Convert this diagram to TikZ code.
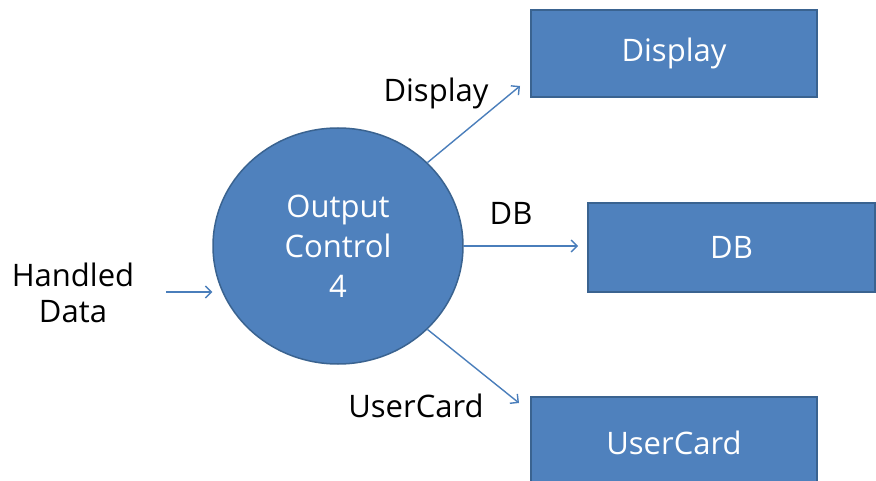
\documentclass[tikz,border=0pt]{standalone}
\usepackage{fontspec}
\setmainfont{Open Sans}
\usetikzlibrary{shapes.geometric,arrows.meta}
\definecolor{boxfill}{HTML}{4F81BD}
\definecolor{boxedge}{HTML}{3A6390}
\definecolor{flow}{HTML}{4A7EBB}
\begin{document}
\begin{tikzpicture}[x=1pt,y=-1pt,
  proc/.style={ellipse,draw=boxedge,line width=1.5pt,fill=boxfill,minimum width=250pt,minimum height=236pt,inner sep=0pt,text=white,align=center,font=\fontsize{31}{40}\selectfont},
  store/.style={rectangle,draw=boxedge,line width=2pt,fill=boxfill,inner sep=0pt,text=white,font=\fontsize{31}{36}\selectfont},
  lbl/.style={text=black,inner sep=0pt,align=center,font=\fontsize{31}{36}\selectfont},
  flowarrow/.style={draw=flow,line width=1.4pt,-{Straight Barb[length=6pt,width=12pt]}}]
\useasboundingbox (0,0) rectangle (876,481);
\node[proc] (oc) at (338,246) {Output\\Control\\4};
\node[store,minimum width=286pt,minimum height=87pt] (disp) at (674,53.5) {Display};
\node[store,minimum width=287pt,minimum height=89pt] (db) at (731.5,247.5) {DB};
\node[store,minimum width=286pt,minimum height=92pt] (uc) at (674,443) {UserCard};
\node[lbl] (hd) at (73,293) {Handled\\Data};
\node[lbl] (ldisp) at (436,93) {Display};
\node[lbl] (ldb) at (511,213) {DB};
\node[lbl] (luc) at (416,406) {UserCard};
\coordinate (inS) at (166,292);
\coordinate (dispE) at (520,86);
\coordinate (dbE) at (578,246);
\coordinate (ucE) at (519,403);
\draw[flowarrow] (inS) -- (oc.west |- inS);
\draw[flowarrow] (oc.43) -- (dispE);
\draw[flowarrow] (oc.east) -- (dbE);
\draw[flowarrow] (oc.-43) -- (ucE);
\end{tikzpicture}
\end{document}
